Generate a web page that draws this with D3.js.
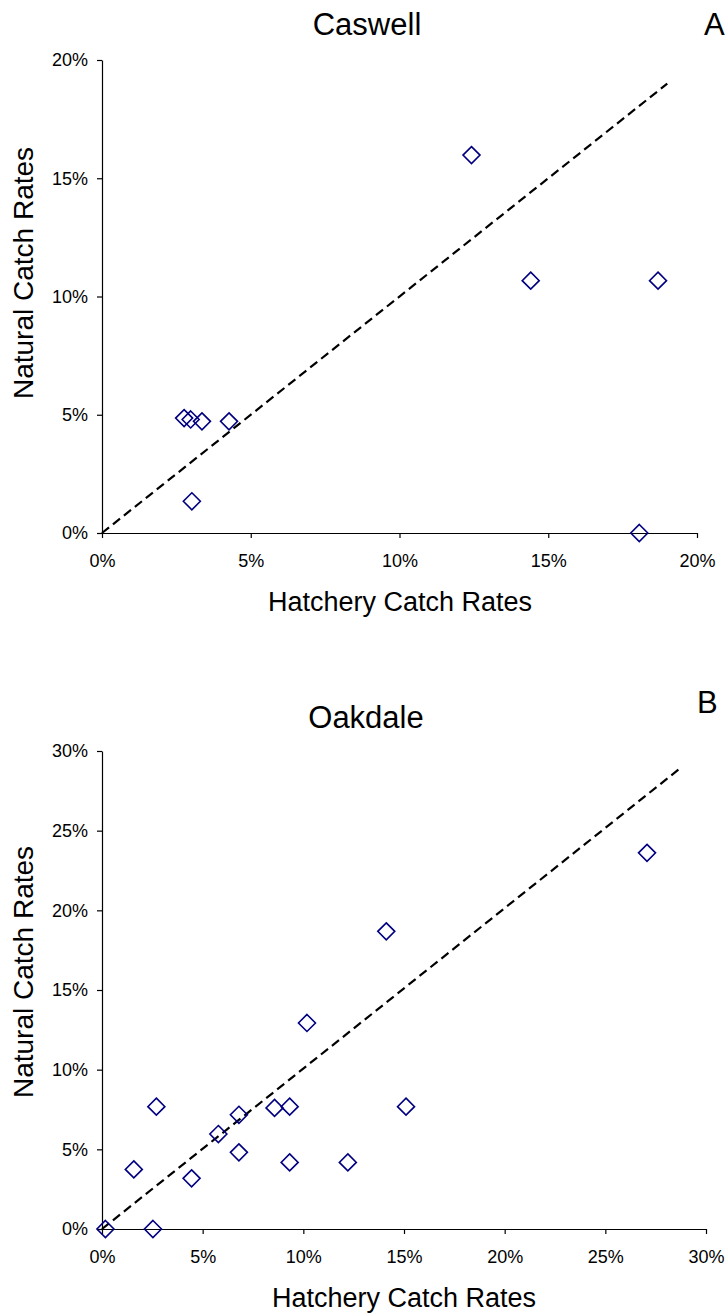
<!DOCTYPE html>
<html>
<head>
<meta charset="utf-8">
<script src="https://cdn.jsdelivr.net/npm/d3@7"></script>
<style>
  html, body { margin: 0; padding: 0; background: #fff; }
  svg { display: block; }
  text { font-family: "Liberation Sans", Arial, sans-serif; fill: #000; }
</style>
</head>
<body>
<svg id="fig" width="728" height="1316"></svg>
<script>
// Panel A: Caswell
const caswellHatchery = [0.0276, 0.0298, 0.0336, 0.0427, 0.0302, 0.1242, 0.1441, 0.1869, 0.1806];
const caswellNatural  = [0.0486, 0.0480, 0.0472, 0.0472, 0.0134, 0.1598, 0.1067, 0.1067, 0.0000];
const caswellLineX = [0, 0.19];
const caswellLineY = [0, 0.19];
const caswellTicksX = [0, 0.05, 0.10, 0.15, 0.20];
const caswellTicksY = [0, 0.05, 0.10, 0.15, 0.20];

// Panel B: Oakdale
const oakdaleHatchery = [0.0017, 0.0253, 0.0158, 0.0270, 0.0445, 0.0578, 0.0680, 0.0680, 0.0857, 0.0932, 0.0932, 0.1018, 0.1221, 0.1412, 0.1510, 0.2707];
const oakdaleNatural  = [0.0000, 0.0000, 0.0374, 0.0768, 0.0318, 0.0596, 0.0717, 0.0481, 0.0760, 0.0768, 0.0418, 0.1293, 0.0418, 0.1868, 0.0768, 0.2361];
const oakdaleLineX = [0, 0.288];
const oakdaleLineY = [0, 0.290];
const oakdaleTicksX = [0, 0.05, 0.10, 0.15, 0.20, 0.25, 0.30];
const oakdaleTicksY = [0, 0.05, 0.10, 0.15, 0.20, 0.25, 0.30];

const xTitle = "Hatchery Catch Rates";
const yTitle = "Natural Catch Rates";

const svg = d3.select("#fig");
const pct = d3.format(".0%");

function panel(cfg) {
  const g = svg.append("g");
  const x = d3.scaleLinear().domain(cfg.xDomain).range([cfg.left, cfg.right]);
  const y = d3.scaleLinear().domain(cfg.yDomain).range([cfg.bottom, cfg.top]);

  // 1:1 reference line
  const linePts = cfg.lineX.map((v, i) => [v, cfg.lineY[i]]);
  g.append("path")
    .datum(linePts)
    .attr("d", d3.line().x(d => x(d[0])).y(d => y(d[1])))
    .attr("fill", "none")
    .attr("stroke", "#000")
    .attr("stroke-width", 2.2)
    .attr("stroke-dasharray", "9,5");

  // axes
  const xAxis = g.append("g")
    .attr("transform", `translate(0,${cfg.bottom})`)
    .call(d3.axisBottom(x).tickValues(cfg.ticksX).tickFormat(pct).tickSize(5).tickPadding(16).tickSizeOuter(0));
  const yAxis = g.append("g")
    .attr("transform", `translate(${cfg.left},0)`)
    .call(d3.axisLeft(y).tickValues(cfg.ticksY).tickFormat(pct).tickSize(5).tickPadding(9).tickSizeOuter(0));
  [xAxis, yAxis].forEach(a => {
    a.selectAll("path, line").attr("stroke", "#000").attr("stroke-width", 1.2);
    a.selectAll("text").style("font-size", "18px").style("font-family", '"Liberation Sans", Arial, sans-serif').attr("fill", "#000");
  });

  // points
  const pts = cfg.hx.map((v, i) => [v, cfg.ny[i]]);
  const r = 8.5;
  g.selectAll("path.pt")
    .data(pts)
    .join("path")
    .attr("class", "pt")
    .attr("d", d => {
      const cx = x(d[0]), cy = y(d[1]);
      return `M${cx},${cy - r}L${cx + r},${cy}L${cx},${cy + r}L${cx - r},${cy}Z`;
    })
    .attr("fill", "none")
    .attr("stroke", "#000080")
    .attr("stroke-width", 1.6);

  // titles
  g.append("text")
    .attr("x", cfg.titleX).attr("y", cfg.titleY)
    .attr("text-anchor", "middle")
    .style("font-size", "31px")
    .text(cfg.title);
  g.append("text")
    .attr("x", cfg.letterX).attr("y", cfg.letterY)
    .style("font-size", "31px")
    .text(cfg.letter);
  g.append("text")
    .attr("x", cfg.xTitleX).attr("y", cfg.xTitleY)
    .attr("text-anchor", "middle")
    .style("font-size", "27px")
    .text(xTitle);
  g.append("text")
    .attr("transform", `translate(${cfg.yTitleX},${cfg.yTitleY}) rotate(-90)`)
    .attr("text-anchor", "middle")
    .style("font-size", "28px")
    .text(yTitle);
}

panel({
  title: "Caswell", letter: "A",
  xDomain: [0, 0.2], yDomain: [0, 0.2],
  left: 102, right: 697, top: 60, bottom: 533,
  ticksX: caswellTicksX, ticksY: caswellTicksY,
  hx: caswellHatchery, ny: caswellNatural,
  lineX: caswellLineX, lineY: caswellLineY,
  titleX: 367, titleY: 35, letterX: 704, letterY: 35,
  xTitleX: 400, xTitleY: 611, yTitleX: 33, yTitleY: 273
});

panel({
  title: "Oakdale", letter: "B",
  xDomain: [0, 0.3], yDomain: [0, 0.3],
  left: 102, right: 706, top: 751, bottom: 1229,
  ticksX: oakdaleTicksX, ticksY: oakdaleTicksY,
  hx: oakdaleHatchery, ny: oakdaleNatural,
  lineX: oakdaleLineX, lineY: oakdaleLineY,
  titleX: 366, titleY: 728, letterX: 697, letterY: 713,
  xTitleX: 404, xTitleY: 1307, yTitleX: 33, yTitleY: 972
});
</script>
</body>
</html>
